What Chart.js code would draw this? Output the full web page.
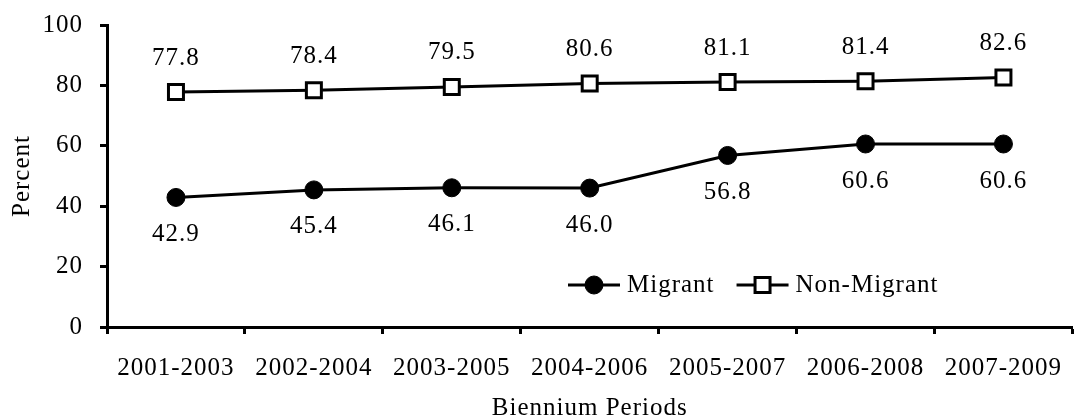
<!DOCTYPE html>
<html>
<head>
<meta charset="utf-8">
<script src="https://cdn.jsdelivr.net/npm/chart.js@4/dist/chart.umd.min.js"></script>
<style>
  html, body { margin: 0; padding: 0; background: #fff; overflow: hidden; }
  /* a little wider than the window: the x scale keeps ~12px of right padding for its labels */
  #wrap { width: 1086px; height: 419px; }
  canvas { display: block; }
</style>
</head>
<body>
<div id="wrap"><canvas id="percent-graf"></canvas></div>
<script>
"use strict";

//----------------------- data ---------------------------------------
let periods = ["2001-2003", "2002-2004", "2003-2005", "2004-2006", "2005-2007", "2006-2008", "2007-2009"];
let migrant = [42.9, 45.4, 46.1, 46.0, 56.8, 60.6, 60.6];
let nonMigrant = [77.8, 78.4, 79.5, 80.6, 81.1, 81.4, 82.6];
let yTicks = [0, 20, 40, 60, 80, 100];

let serif = "'Liberation Serif', 'Times New Roman', serif";

//----------------------- slightly spaced text everywhere --------------
// canvas state is reset on resize, so set it again before layout and draw
let spacedText = {
  id: "spacedText",
  beforeLayout(chart) {
    chart.ctx.letterSpacing = "1px";
  },
  beforeDraw(chart) {
    chart.ctx.letterSpacing = "1px";
  }
};

//----------------------- value labels above / below points -----------
let valueLabels = {
  id: "valueLabels",
  afterDatasetsDraw(chart, args, opts) {
    let ctx = chart.ctx;
    ctx.save();
    ctx.font = "25px " + serif;
    ctx.fillStyle = "#000";
    ctx.textAlign = "center";
    ctx.textBaseline = "middle";
    chart.data.datasets.forEach((ds, i) => {
      let meta = chart.getDatasetMeta(i);
      meta.data.forEach((pt, j) => {
        ctx.fillText(ds.data[j].toFixed(1), pt.x, pt.y + opts.offsets[i]);
      });
    });
    ctx.restore();
  }
};

//----------------------- legend inside the plot ----------------------
let innerLegend = {
  id: "innerLegend",
  afterDraw(chart, args, opts) {
    let ctx = chart.ctx;
    let x = opts.x;
    let y = opts.y;
    ctx.save();
    ctx.font = "25px " + serif;
    ctx.textBaseline = "middle";
    chart.data.datasets.forEach(ds => {
      // line sample
      ctx.strokeStyle = ds.borderColor;
      ctx.lineWidth = ds.borderWidth;
      ctx.beginPath();
      ctx.moveTo(x, y);
      ctx.lineTo(x + 52, y);
      ctx.stroke();
      // marker
      ctx.fillStyle = ds.pointBackgroundColor;
      ctx.lineWidth = ds.pointBorderWidth;
      ctx.beginPath();
      if (ds.pointStyle == "rect") {
        let s = ds.pointRadius * Math.SQRT1_2;
        ctx.rect(x + 26 - s, y - s, s * 2, s * 2);
      } else {
        ctx.arc(x + 26, y, ds.pointRadius, 0, Math.PI * 2);
      }
      ctx.fill();
      ctx.stroke();
      // text
      ctx.fillStyle = "#000";
      ctx.fillText(ds.label, x + 59, y);
      x += 59 + ctx.measureText(ds.label).width + 22;
    });
    ctx.restore();
  }
};

let ctx = document.getElementById("percent-graf").getContext("2d");

let percentChart = new Chart(ctx, {
  type: "line",
  data: {
    labels: periods,
    datasets: [{
      label: "Migrant",
      data: migrant,
      borderColor: "#000",
      borderWidth: 3,
      pointStyle: "circle",
      pointRadius: 9,
      pointHoverRadius: 9,
      pointBackgroundColor: "#000",
      pointBorderColor: "#000",
      pointBorderWidth: 1,
      tension: 0
    }, {
      label: "Non-Migrant",
      data: nonMigrant,
      borderColor: "#000",
      borderWidth: 3,
      pointStyle: "rect",
      pointRadius: 10.6,
      pointHoverRadius: 10.6,
      pointBackgroundColor: "#fff",
      pointBorderColor: "#000",
      pointBorderWidth: 3,
      tension: 0
    }]
  },
  options: {
    responsive: true,
    maintainAspectRatio: false,
    animation: false,
    layout: {
      padding: { top: 25, right: 0, bottom: 0, left: 0 }
    },
    plugins: {
      legend: { display: false },
      tooltip: { enabled: false },
      valueLabels: { offsets: [37, -34] },
      innerLegend: { x: 568, y: 285 }
    },
    scales: {
      x: {
        offset: true,
        grid: {
          offset: true,
          drawOnChartArea: false,
          tickLength: 7,
          tickWidth: 3,
          tickColor: "#000"
        },
        border: { display: true, color: "#000", width: 3 },
        ticks: {
          color: "#000",
          font: { family: serif, size: 25 },
          padding: 19,
          maxRotation: 0,
          autoSkip: false
        },
        title: {
          display: true,
          text: "Biennium Periods",
          color: "#000",
          font: { family: serif, size: 25, lineHeight: 1 },
          padding: { top: 0, bottom: -2 }
        },
        afterFit(scale) {
          scale.height = 92;
        }
      },
      y: {
        min: 0,
        max: 100,
        grid: {
          drawOnChartArea: false,
          tickLength: 7,
          tickWidth: 3,
          tickColor: "#000"
        },
        border: { display: true, color: "#000", width: 3 },
        ticks: {
          color: "#000",
          font: { family: serif, size: 25 },
          padding: 17
        },
        afterBuildTicks(scale) {
          scale.ticks = yTicks.map(v => ({ value: v }));
        },
        title: {
          display: true,
          text: "Percent",
          color: "#000",
          font: { family: serif, size: 25, lineHeight: 1.2 },
          padding: { top: 7, bottom: 0 }
        },
        afterFit(scale) {
          scale.width = 107;
          scale.paddingTop = 0;
          scale.paddingBottom = 0;
        }
      }
    }
  },
  plugins: [spacedText, valueLabels, innerLegend]
});
</script>
</body>
</html>
